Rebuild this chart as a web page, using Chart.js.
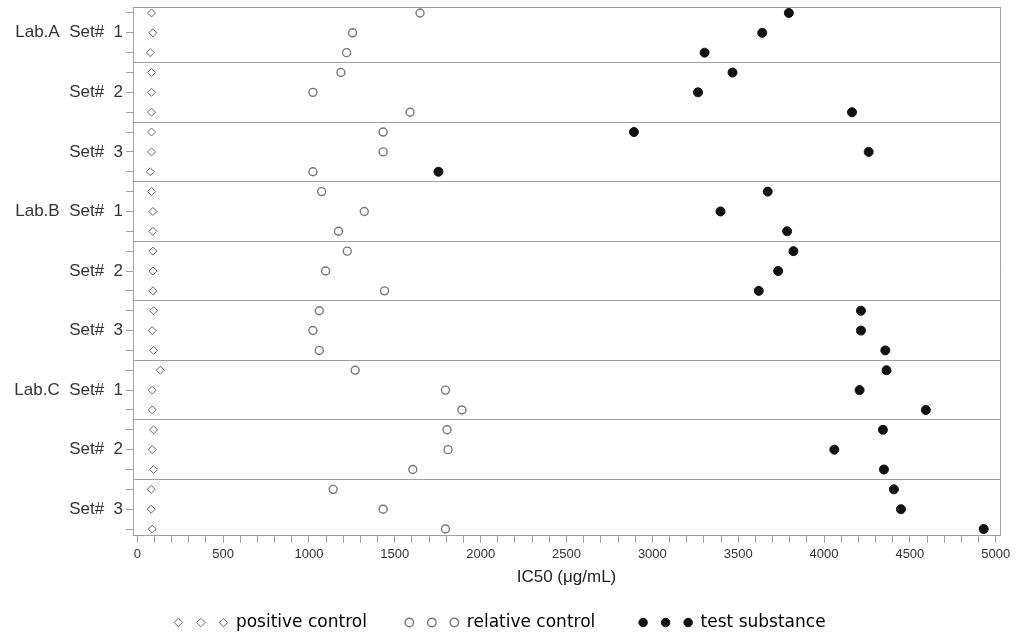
<!DOCTYPE html>
<html>
<head>
<meta charset="utf-8">
<title>IC50</title>
<script src="https://cdn.jsdelivr.net/npm/chart.js@4.4.1/dist/chart.umd.min.js"></script>
<style>
  body { margin: 0; background: #fff; }
</style>
</head>
<body>
<canvas id="chartIC50" width="1016" height="637"></canvas>
<script>
// labels shown at the middle replicate of each set
const setLabels = ['Lab.A  Set#  1', 'Set#  2', 'Set#  3',
                   'Lab.B  Set#  1', 'Set#  2', 'Set#  3',
                   'Lab.C  Set#  1', 'Set#  2', 'Set#  3'];
const xTicks = [0, 500, 1000, 1500, 2000, 2500, 3000, 3500, 4000, 4500, 5000];
const legendText = ['positive control      ', 'relative control       ', 'test substance'];

// IC50 per replicate (3 per set), top to bottom
const positiveControl = [83, 91, 76, 83, 83, 83, 83, 83, 76,
                         83, 91, 91, 91, 91, 91, 95, 87, 95,
                         134, 87, 87, 95, 87, 95, 81, 81, 87];
const relativeControl = [1647, 1254, 1219, 1186, 1023, 1589, 1432, 1432, 1023,
                         1074, 1322, 1172, 1223, 1097, 1440, 1060, 1023, 1060,
                         1269, 1795, 1891, 1804, 1810, 1605, 1141, 1432, 1795];
const testSubstance = [3795, 3640, 3304, 3467, 3266, 4163, 2893, 4260, 1754,
                       3672, 3397, 3785, 3822, 3733, 3620, 4215, 4215, 4357,
                       4364, 4207, 4593, 4343, 4060, 4349, 4407, 4448, 4930];

const nRows = positiveControl.length;
const frameColor = '#a0a0a0';

function toPoints(arr) {
    return arr.map(function (v, i) { return { x: v, y: i }; });
}
function isSeparator(v) {
    return Math.abs(v - Math.round(v)) > 0.1;
}

document.addEventListener('DOMContentLoaded', function () {
    const ctx = document.getElementById('chartIC50').getContext('2d');
    const chart = new Chart(ctx, {
        type: 'scatter',
        data: {
            datasets: [{
                label: 'positive control',
                data: toPoints(positiveControl),
                pointStyle: 'rectRot',
                pointRadius: 4,
                backgroundColor: '#ffffff',
                borderColor: '#666666',
                borderWidth: 1
            }, {
                label: 'relative control',
                data: toPoints(relativeControl),
                pointStyle: 'circle',
                pointRadius: 4,
                backgroundColor: '#ffffff',
                borderColor: '#777777',
                borderWidth: 1.4
            }, {
                label: 'test substance',
                data: toPoints(testSubstance),
                pointStyle: 'circle',
                pointRadius: 4.5,
                backgroundColor: '#111111',
                borderColor: '#111111',
                borderWidth: 1
            }]
        },
        options: {
            responsive: false,
            animation: false,
            layout: { padding: { top: 7, right: 16, left: 0, bottom: 3 } },
            plugins: {
                tooltip: { enabled: false },
                legend: {
                    position: 'bottom',
                    maxHeight: 26,
                    labels: {
                        usePointStyle: true,
                        boxWidth: 8,
                        boxHeight: 6,
                        padding: 6,
                        color: '#222',
                        font: { family: "'DejaVu Sans', sans-serif", size: 17 },
                        generateLabels: function (chart) {
                            const items = [];
                            chart.data.datasets.forEach(function (ds, i) {
                                for (let k = 0; k < 3; k++) {
                                    items.push({
                                        text: k < 2 ? '' : legendText[i],
                                        pointStyle: ds.pointStyle,
                                        fillStyle: ds.backgroundColor,
                                        strokeStyle: ds.borderColor,
                                        lineWidth: ds.borderWidth,
                                        hidden: false,
                                        datasetIndex: i
                                    });
                                }
                            });
                            return items;
                        }
                    }
                }
            },
            scales: {
                x: {
                    type: 'linear',
                    min: -25,
                    max: 5025,
                    afterBuildTicks: function (scale) {
                        const t = [];
                        for (let v = 0; v <= 5000; v += 100) t.push({ value: v });
                        scale.ticks = t;
                    },
                    afterFit: function (scale) { scale.height = 73; },
                    border: { color: frameColor },
                    grid: { drawOnChartArea: false, color: frameColor, tickLength: 8 },
                    ticks: {
                        autoSkip: false,
                        maxRotation: 0,
                        padding: 4,
                        color: '#333',
                        font: { family: "'Liberation Sans Narrow', 'Liberation Sans', sans-serif", size: 13 },
                        callback: function (v) { return xTicks.indexOf(v) >= 0 ? String(v) : ''; }
                    },
                    title: {
                        display: true,
                        text: 'IC50 (\u03bcg/mL)',
                        color: '#222',
                        padding: { top: 8, bottom: 20 },
                        font: { family: "'Liberation Sans', sans-serif", size: 17 }
                    }
                },
                y: {
                    type: 'linear',
                    reverse: true,
                    min: -0.3,
                    max: nRows - 1 + 0.3,
                    afterBuildTicks: function (scale) {
                        const t = [];
                        for (let i = 0; i < nRows; i++) {
                            t.push({ value: i });
                            if (i % 3 === 2 && i < nRows - 1) t.push({ value: i + 0.5 });
                        }
                        scale.ticks = t;
                    },
                    afterFit: function (scale) {
                        scale.width = 133;
                        scale.paddingTop = 0;
                        scale.paddingBottom = 0;
                    },
                    border: { color: frameColor },
                    grid: {
                        color: function (c) { return c.tick && isSeparator(c.tick.value) ? frameColor : 'rgba(0,0,0,0)'; },
                        tickColor: function (c) { return c.tick && isSeparator(c.tick.value) ? 'rgba(0,0,0,0)' : frameColor; },
                        tickLength: 7
                    },
                    ticks: {
                        autoSkip: false,
                        padding: 3,
                        color: '#333',
                        font: { family: "'Liberation Sans', sans-serif", size: 17 },
                        callback: function (v) {
                            if (isSeparator(v) || v % 3 !== 1) return '';
                            return setLabels[(v - 1) / 3];
                        }
                    }
                },
                xTop: {
                    type: 'linear',
                    position: 'top',
                    afterFit: function (scale) { scale.height = 0; },
                    border: { color: frameColor },
                    grid: { drawOnChartArea: false, drawTicks: false },
                    ticks: { display: false }
                },
                yRight: {
                    type: 'linear',
                    position: 'right',
                    afterFit: function (scale) {
                        scale.width = 0;
                        scale.paddingTop = 0;
                        scale.paddingBottom = 0;
                    },
                    border: { color: frameColor },
                    grid: { drawOnChartArea: false, drawTicks: false },
                    ticks: { display: false }
                }
            }
        }
    });
});
</script>
</body>
</html>
